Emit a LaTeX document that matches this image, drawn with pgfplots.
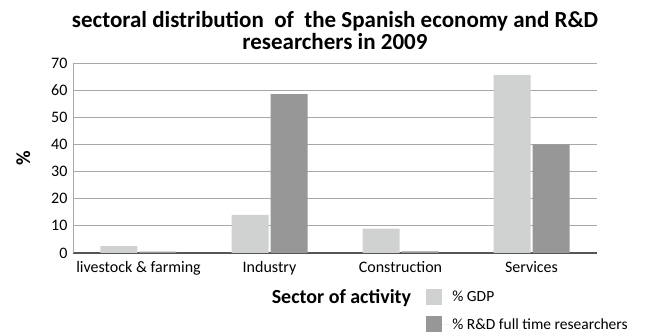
\documentclass[border=0pt]{standalone}
\usepackage{pgfplots}
\pgfplotsset{compat=1.18}
\usepackage{fontspec}
\setmainfont{Carlito}
\definecolor{gdp}{HTML}{D0D2D1}
\definecolor{rd}{HTML}{979797}
\definecolor{gridc}{HTML}{A8A8A8}
\definecolor{axc}{HTML}{555555}
\begin{document}
\begin{tikzpicture}[x=1pt,y=1pt]
\useasboundingbox (-73,-83) rectangle (573,253);
\begin{axis}[
  at={(0,0)}, anchor=south west,
  scale only axis, width=524pt, height=190pt,
  ybar, bar width=37pt, bar shift auto,
  ymin=0, ymax=70, ytick={0,10,...,70},
  xmin=-0.5, xmax=3.5, xtick=data,
  xticklabels={livestock \& farming, Industry, Construction, Services},
  major x tick style={draw=none}, major y tick style={draw=none},
  ymajorgrids, grid style={gridc, line width=0.9pt},
  axis x line*=bottom, axis y line*=left,
  x axis line style={axc, line width=1.3pt, -},
  y axis line style={gridc, line width=0.9pt, -},
  tick label style={font=\fontsize{16}{18}\selectfont, text=black},
  /pgf/number format/assume math mode=true,
  xticklabel style={yshift=-1pt},
  yticklabel style={xshift=-2pt},
  title={sectoral distribution\ \ of\ \ the Spanish economy and R\&D\\researchers in 2009},
  title style={font=\fontsize{23}{22}\selectfont\bfseries, align=center, at={(axis description cs:0.5,1)}, anchor=south, yshift=4pt},
  ylabel={\%}, ylabel style={font=\fontsize{20}{20}\selectfont\bfseries, at={(axis description cs:-0.095,0.5)}, anchor=center, rotate=0},
  xlabel={Sector of activity}, xlabel style={font=\fontsize{20}{20}\selectfont\bfseries, at={(axis description cs:0.652,-0.237)}, anchor=east},
  legend style={at={(axis description cs:0.674,-0.19)}, anchor=north west, draw=none, fill=none, font=\fontsize{15.5}{17}\selectfont, row sep=11pt, inner sep=0pt},
  legend cell align=left,
  legend image code/.code={\fill[#1] (0pt,-8pt) rectangle (16pt,8pt); \path (0pt,0pt) -- (24pt,0pt);},
]
\addplot[fill=gdp, draw=none] coordinates {(0,2.5) (1,14.0) (2,9.0) (3,65.6)};
\addplot[fill=rd, draw=none] coordinates {(0,0.5) (1,58.5) (2,0.6) (3,40.0)};
\legend{\% GDP, \% R\&D full time researchers}
\end{axis}
\end{tikzpicture}
\end{document}
